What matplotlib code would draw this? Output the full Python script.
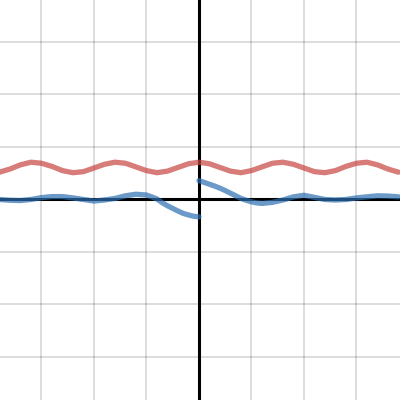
import matplotlib
matplotlib.use("Agg")
import matplotlib.pyplot as plt

# values (graph units, one grid square = 1)
x_full = [-3.8, -3.6, -3.4, -3.2, -3.0, -2.8, -2.6, -2.4, -2.2, -2.0,
          -1.8, -1.6, -1.4, -1.2, -1.0, -0.8, -0.6, -0.4, -0.2, 0.0,
          0.2, 0.4, 0.6, 0.8, 1.0, 1.2, 1.4, 1.6, 1.8, 2.0,
          2.2, 2.4, 2.6, 2.8, 3.0, 3.2, 3.4, 3.6, 3.8]
red_y = [0.52, 0.58, 0.66, 0.71, 0.69, 0.63, 0.55, 0.51, 0.53, 0.60,
         0.67, 0.71, 0.69, 0.62, 0.55, 0.51, 0.54, 0.61, 0.68, 0.71,
         0.68, 0.61, 0.54, 0.51, 0.55, 0.62, 0.69, 0.71, 0.67, 0.60,
         0.53, 0.51, 0.55, 0.63, 0.69, 0.71, 0.66, 0.58, 0.52]

x_left = [-3.8, -3.6, -3.4, -3.2, -3.0, -2.8, -2.6, -2.4, -2.2, -2.0,
          -1.8, -1.6, -1.4, -1.2, -1.0, -0.9, -0.8, -0.7, -0.6, -0.5,
          -0.4, -0.3, -0.2, -0.1, 0.0]
blue_left = [0.0, -0.015, -0.02, 0.0, 0.035, 0.055, 0.055, 0.03, 0.0, -0.03,
             -0.01, 0.02, 0.07, 0.10, 0.085, 0.05, 0.01, -0.06, -0.12, -0.17,
             -0.22, -0.265, -0.295, -0.32, -0.33]

x_right = [0.0, 0.1, 0.2, 0.3, 0.4, 0.5, 0.6, 0.7, 0.8, 0.9,
           1.0, 1.1, 1.2, 1.4, 1.6, 1.8, 2.0, 2.2, 2.4, 2.6,
           2.8, 3.0, 3.2, 3.4, 3.6, 3.8]
blue_right = [0.36, 0.325, 0.29, 0.255, 0.215, 0.17, 0.12, 0.07, 0.02, -0.015,
              -0.045, -0.065, -0.075, -0.055, -0.01, 0.05, 0.08, 0.04, 0.0, -0.01,
              0.0, 0.03, 0.05, 0.07, 0.065, 0.05]

RED = '#c74440'
BLUE = '#2d70b3'

fig = plt.figure(figsize=(4, 4), dpi=100)
ax = fig.add_axes([0, 0, 1, 1])

ax.set_xlim(-3.79, 3.83)
ax.set_ylim(-3.82, 3.80)
ax.set_xticks(range(-3, 4))
ax.set_yticks(range(-3, 4))
ax.tick_params(length=0, labelbottom=False, labelleft=False)
ax.grid(True, color='k', alpha=0.15, lw=1.3)
for s in ax.spines.values():
    s.set_visible(False)

ax.axhline(0, color='k', lw=2.2, zorder=2)
ax.axvline(0, color='k', lw=2.2, zorder=2)

ax.plot(x_full, red_y, color=RED, lw=3.8, alpha=0.7, solid_capstyle='round', zorder=3)
ax.plot(x_left, blue_left, color=BLUE, lw=3.8, alpha=0.7, solid_capstyle='round', zorder=3)
ax.plot(x_right, blue_right, color=BLUE, lw=3.8, alpha=0.7, solid_capstyle='round', zorder=3)

fig.savefig("out.png", dpi=100)
